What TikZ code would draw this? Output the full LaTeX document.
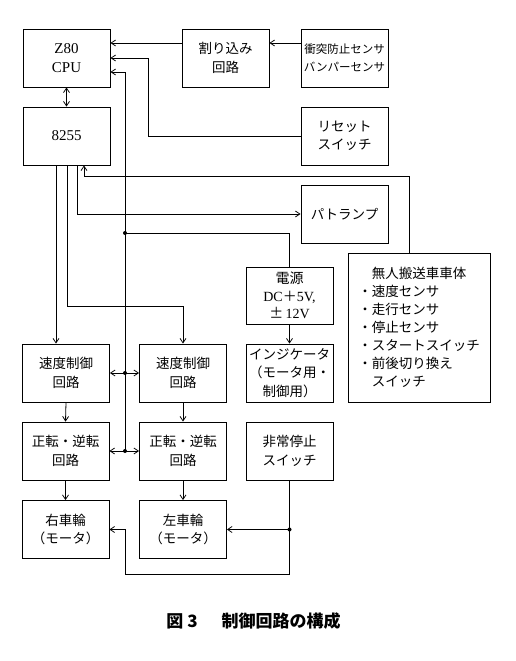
\documentclass[tikz,border=0pt]{standalone}
\usepackage{fontspec}
\setmainfont{Liberation Serif}
\newfontfamily\cjk{Noto Sans CJK JP}
\usetikzlibrary{arrows.meta}
\begin{document}
\begin{tikzpicture}[x=1pt,y=-1pt,
  >={Straight Barb[length=4.5pt,width=6pt]},
  line width=0.8pt,
  box/.style={draw, minimum width=87pt, minimum height=58pt, inner sep=1pt,
    align=center, font=\cjk\fontsize{13.5}{18.5}\selectfont},
  latin/.style={font=\rmfamily\fontsize{15}{18.5}\selectfont},
  small/.style={font=\cjk\fontsize{11.5}{18.5}\selectfont},
  jdot/.style={circle, fill, inner sep=0pt, minimum size=4pt}]
\useasboundingbox (0,0) rectangle (516,661);

% boxes
\node[box,latin] (cpu) at (66.5,58) {Z80\\CPU};
\node[box] (intr) at (225.5,58) {割り込み\\回路};
\node[box,small] (sens) at (344.5,58) {衝突防止センサ\\バンパーセンサ};
\node[box,latin] (ppi) at (66.5,136) {8255};
\node[box] (reset) at (344.5,136) {リセット\\スイッチ};
\node[box] (lamp) at (344.5,214) {パトランプ};
\node[box, minimum width=142pt, minimum height=149pt, align=left,
  font=\cjk\fontsize{13.5}{18}\selectfont] (body) at (419,327.5)
  {　無人搬送車車体\\・速度センサ\\・走行センサ\\・停止センサ\\・スタートスイッチ\\・前後切り換え\\　スイッチ};
\node[box, minimum height=57pt, font=\rmfamily\fontsize{14}{17.5}\selectfont] (power) at (289.5,295.5)
  {{\cjk 電源}\\DC{\cjk ＋}5V,\\{\cjk ±}\,12V};
\node[box] (ind) at (289.5,373) {インジケータ\\（モータ用・\\制御用）};
\node[box] (spdL) at (66,373) {速度制御\\回路};
\node[box] (spdR) at (183,373) {速度制御\\回路};
\node[box] (revL) at (65.5,451) {正転・逆転\\回路};
\node[box] (revR) at (183,451) {正転・逆転\\回路};
\node[box] (stop) at (289.5,451) {非常停止\\スイッチ};
\node[box] (whR) at (65.5,529.5) {右車輪\\（モータ）};
\node[box] (whL) at (183,529.5) {左車輪\\（モータ）};

% caption
\node[font=\cjk\bfseries\fontsize{17}{20}\selectfont] (cap) at (253.5,621)
  {図 3\hspace{24pt}制御回路の構成};

% junctions
\node[jdot] (j1) at (125,233) {};
\node[jdot] (j2) at (125,373) {};
\node[jdot] (j3) at (125,451) {};
\node[jdot] (j4) at (289.5,529.5) {};

% top connectors
\draw[->] (intr.west |- 0,43) -- (cpu.east |- 0,43);
\draw[->] (sens.west |- 0,43) -- (intr.east |- 0,43);
\draw[->] (reset.west) -- (148,136) -- (148,58) -- (cpu.east);
\draw[->] (j3.center) -- (125,72) -- (cpu.east |- 0,72);
\draw[<->] (cpu.south) -- (ppi.north);

% 8255 lines
\draw[->] (ppi.south -| 56,0) -- (spdL.north -| 56,0);
\draw[->] (ppi.south -| 67,0) -- (67,306) -- (183,306) -- (spdR.north);
\draw[->] (ppi.south -| 77,0) -- (77,214) -- (lamp.west);
\draw[->] (body.north -| 409,0) -- (409,176) -- (84,176) -- (ppi.south -| 84,0);

% bus
\draw (j1.center) -- (289.5,233) -- (power.north);
\draw[->] (power.south) -- (ind.north);
\draw[->] (j2.center) -- (spdL.east);
\draw[->] (j2.center) -- (spdR.west);
\draw[->] (j3.center) -- (revL.east);
\draw[->] (j3.center) -- (revR.west);

% columns
\draw[->] (spdL.south) -- (revL.north);
\draw[->] (spdR.south) -- (revR.north);
\draw[->] (revL.south) -- (whR.north);
\draw[->] (revR.south) -- (whL.north);

% emergency stop
\draw (stop.south) -- (j4.center);
\draw[->] (j4.center) -- (whL.east);
\draw[->] (j4.center) -- (289.5,574) -- (125,574) -- (125,529.5) -- (whR.east);
\end{tikzpicture}
\end{document}
